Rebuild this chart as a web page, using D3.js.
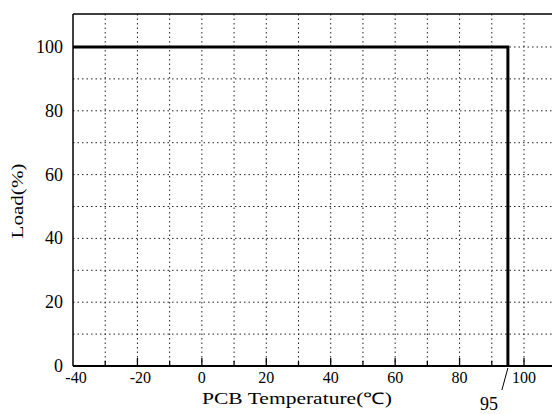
<!DOCTYPE html>
<html><head><meta charset="utf-8">
<script src="https://cdn.jsdelivr.net/npm/d3@7"></script>
<style>
html,body{margin:0;padding:0;background:#fff;}
svg{display:block;}
text{font-family:"Liberation Serif","Times New Roman",serif;fill:#000;font-weight:normal;}
</style></head>
<body><svg id="c" width="552" height="414"></svg>
<script>
// Data
const temperature = [-40, 95, 95];
const load = [100, 100, 0];
const xTickValues = [-40, -20, 0, 20, 40, 60, 80, 100];
const xTickLabels = ["-40", "-20", "0", "20", "40", "60", "80", "100"];
const yTickValues = [0, 20, 40, 60, 80, 100];
const yTickLabels = ["0", "20", "40", "60", "80", "100"];
const xGrid = [-30, -20, -10, 0, 10, 20, 30, 40, 50, 60, 70, 80, 90, 100];
const yGrid = [10, 20, 30, 40, 50, 60, 70, 80, 90, 100];
const annotationTemp = 95;
const annotationLabel = "95";
const xTitle = "PCB Temperature(℃)";
const yTitle = "Load(%)";

const svg = d3.select("#c");
const x = d3.scaleLinear().domain([-40, 100]).range([73, 524]);
const y = d3.scaleLinear().domain([0, 100]).range([366, 47]);
const xRight = 552, yTop = 14;

// grid
svg.append("g").selectAll("line").data(xGrid).join("line")
  .attr("x1", d => x(d)).attr("x2", d => x(d))
  .attr("y1", yTop).attr("y2", y(0))
  .attr("stroke", "#222").attr("stroke-width", 1).attr("stroke-dasharray", "1.5,3");
svg.append("g").selectAll("line").data(yGrid).join("line")
  .attr("x1", x(-40)).attr("x2", xRight)
  .attr("y1", d => y(d)).attr("y2", d => y(d))
  .attr("stroke", "#222").attr("stroke-width", 1).attr("stroke-dasharray", "1.5,3");

// frame
svg.append("line").attr("x1", x(-40)).attr("x2", xRight).attr("y1", yTop).attr("y2", yTop)
  .attr("stroke", "#000").attr("stroke-width", 1.5);
svg.append("line").attr("x1", x(-40)).attr("x2", x(-40)).attr("y1", yTop).attr("y2", y(0))
  .attr("stroke", "#000").attr("stroke-width", 1.5);
svg.append("line").attr("x1", x(-40)).attr("x2", xRight).attr("y1", y(0)).attr("y2", y(0))
  .attr("stroke", "#000").attr("stroke-width", 1.8);

// inward ticks at bottom
svg.append("g").selectAll("line").data(xGrid).join("line")
  .attr("x1", d => x(d)).attr("x2", d => x(d))
  .attr("y1", y(0)).attr("y2", d => y(0) - (d % 20 === 0 ? 8 : 5))
  .attr("stroke", "#000").attr("stroke-width", 1.3);

// tick labels
svg.append("g").selectAll("text").data(xTickValues).join("text")
  .attr("x", d => x(d) + (d < 0 ? 3 : 0)).attr("y", 383)
  .attr("text-anchor", "middle").attr("font-size", 16)
  .text((d, i) => xTickLabels[i]);
svg.append("g").selectAll("text").data(yTickValues).join("text")
  .attr("x", 63).attr("y", d => y(d) + 6)
  .attr("text-anchor", "end").attr("font-size", 18)
  .text((d, i) => yTickLabels[i]);

// data line
const line = d3.line().x(d => x(d[0])).y(d => y(d[1]));
svg.append("path").datum(temperature.map((t, i) => [t, load[i]]))
  .attr("d", line).attr("fill", "none").attr("stroke", "#000").attr("stroke-width", 3);

// annotation
svg.append("line").attr("x1", x(annotationTemp)).attr("y1", y(0) + 2)
  .attr("x2", x(annotationTemp) - 6).attr("y2", y(0) + 24)
  .attr("stroke", "#000").attr("stroke-width", 1);
svg.append("text").attr("x", 489).attr("y", 410).attr("text-anchor", "middle")
  .attr("font-size", 18).text(annotationLabel);

// titles
svg.append("text").attr("x", 297).attr("y", 404).attr("text-anchor", "middle")
  .attr("font-size", 16).attr("textLength", 190).attr("lengthAdjust", "spacingAndGlyphs")
  .text(xTitle);
svg.append("text").attr("transform", "translate(23,201) rotate(-90)")
  .attr("text-anchor", "middle").attr("font-size", 17)
  .attr("textLength", 75).attr("lengthAdjust", "spacingAndGlyphs")
  .text(yTitle);
</script></body></html>
